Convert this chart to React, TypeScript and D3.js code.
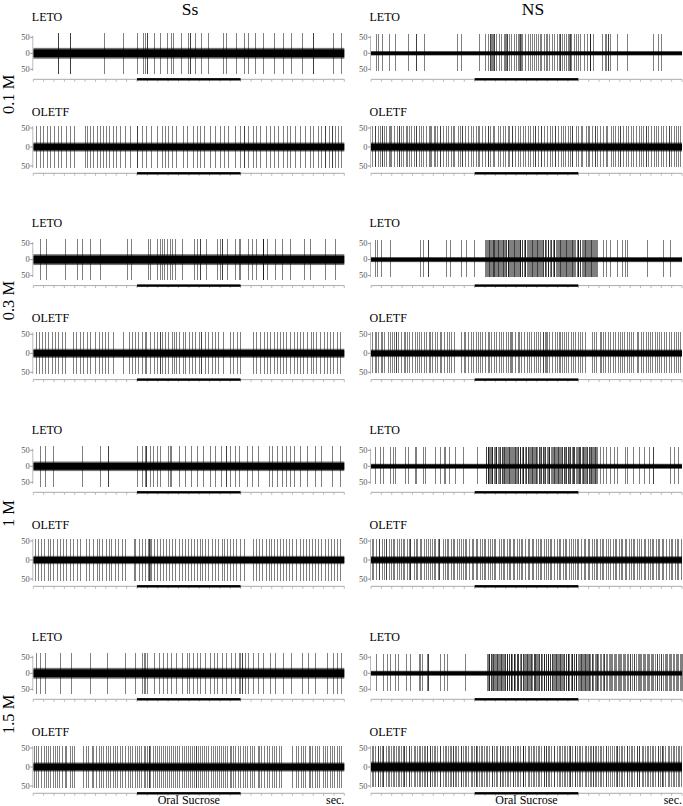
import React from "react";
import * as d3 from "d3";

// spike times, in tenths of a second (0 - 30 s)
const concentrations = ["0.1 M", "0.3 M", "1 M", "1.5 M"];
const groups = ["Ss", "NS"];
const strains = ["LETO", "OLETF"];
const yTickValues = [50, 0, -50];
const yTickLabels = ["50", "0", "50"];
const stimulus = [100, 200];

const ssLeto01 = [24, 24, 35, 35, 68, 87, 100, 106, 108, 110, 110, 116, 122, 129, 133, 135, 142, 149, 151, 151, 156, 162, 169, 183, 186, 196, 203, 207, 214, 222, 232, 241, 249, 259, 270, 270, 289, 297];
const ssOletf01 = [3, 6, 9, 13, 16, 20, 24, 27, 32, 35, 39, 50, 52, 55, 58, 61, 64, 67, 70, 73, 77, 80, 84, 88, 93, 100, 100, 105, 109, 114, 119, 124, 127, 130, 134, 138, 144, 148, 154, 158, 161, 165, 170, 175, 180, 184, 188, 195, 199, 203, 203, 207, 212, 215, 219, 224, 228, 232, 236, 241, 245, 248, 252, 257, 262, 267, 270, 275, 278, 281, 281, 285, 288, 288, 291, 294, 297];
const ssLeto03 = [6, 12, 31, 42, 47, 55, 64, 90, 94, 111, 113, 119, 122, 124, 126, 129, 132, 134, 137, 143, 155, 158, 161, 161, 167, 177, 180, 182, 182, 187, 195, 198, 199, 207, 211, 215, 222, 222, 222, 225, 233, 240, 248, 261, 267, 281, 291];
const ssOletf03 = [3, 5.5, 8, 11.6, 14, 18, 21.3, 24, 27.5, 31, 38, 41, 45.4, 48, 52, 55, 59.2, 63, 66, 69.4, 72, 77, 87, 92, 95.3, 98, 101, 105, 107.4, 109, 113, 116, 119, 122, 122, 124.3, 127, 130, 133.6, 136, 138, 141, 144, 146.5, 150, 153, 156, 159.4, 162, 162, 166, 169, 172, 175.3, 178, 183, 190, 193, 196.4, 199, 212, 215, 219, 222.5, 225, 228, 232, 235, 238.4, 241, 244, 248, 251.5, 254, 257, 260, 264, 267.5, 270, 273, 277, 280, 283.6, 286, 289, 293, 296];
const ssLeto1 = [6, 11, 19, 47, 64, 72, 72, 100, 105, 108, 109, 109, 113, 115, 119, 122, 130, 131.5, 133, 141, 146, 152, 158, 164, 170, 175, 181, 186, 186, 190, 195, 198, 206, 211, 217, 227, 230, 235, 240, 244, 248, 251, 257, 264, 272, 278, 288, 296];
const ssOletf1 = [2, 5, 7, 10.5, 14, 16, 19, 23, 26, 28.4, 32, 35, 38, 42, 45, 51, 54, 57.5, 61, 63, 66, 70, 73.4, 75, 79, 82, 86, 88, 97, 98, 102, 104.5, 108, 111, 112, 112, 113, 114, 116, 119, 122, 125.4, 128, 131, 134, 137, 140.5, 143, 146, 149, 152, 155, 158, 160.4, 163, 166, 169, 172, 175, 178, 181.6, 184, 187, 190, 193, 196, 199, 203, 212, 215, 218, 221, 224.5, 227, 229, 232, 235, 238, 241, 244, 247, 250, 253, 257, 260, 263, 266, 269, 272, 275, 278, 281, 284, 287, 290, 293, 296];
const ssLeto15 = [3, 6, 11, 26, 36, 55, 71, 88, 98, 105, 107, 108, 110, 116, 121, 125, 129, 133, 138, 143, 148, 150, 154, 158, 161, 166, 170, 174, 177, 182, 186, 191, 195, 198, 199, 201, 201, 204, 207, 212, 217, 222, 228, 233, 241, 249, 259, 265, 272, 283, 289, 293, 297];
const ssOletf15 = [1, 3, 5, 7.4, 10, 12, 14, 16.5, 19, 21, 23, 25, 28, 30.4, 32, 35, 37, 39, 48, 51, 53, 56.5, 58, 60, 63, 65, 67, 70, 72.5, 74, 77, 79, 81, 84, 86, 88, 91, 93.4, 95, 98, 100, 102, 104, 106.4, 108, 110, 112, 112, 113, 115, 117, 119, 121, 123, 125.5, 127, 129, 131, 133, 135, 137, 139, 141, 143, 145.4, 147, 149, 151, 153, 155, 157, 157, 159, 161, 163, 165, 167, 169, 171.5, 173, 175, 177, 179, 181, 183, 185, 187, 189.5, 191, 193, 195, 197, 199, 202, 204, 206, 209, 211, 213, 216.5, 218, 220, 223, 225, 227, 230, 232, 234, 237, 239, 250, 253, 255, 258, 260, 262, 265.5, 267, 269, 272, 274, 276, 279, 281, 283, 286, 288, 290, 293, 295, 297];

const nsLeto01 = [5, 7, 11, 17, 23, 36, 43, 43, 51, 83, 87, 104, 110, 113, 115, 115, 116, 117, 118, 119, 119, 121, 123, 125, 128, 129, 130, 131, 131, 133, 135, 138, 140, 142, 143, 144, 144, 145, 146, 149, 151, 153, 155, 157, 159, 161, 163, 164, 167, 169, 170, 172, 175, 177, 179, 181, 182, 182, 184, 186, 188, 190, 191, 192, 192, 193, 196, 198, 200, 202, 205, 208, 211, 211, 211, 214, 223, 226, 227, 229, 229, 231, 237, 247, 272, 277, 280];
const nsOletf01 = [1.2, 3.5, 4.1, 6.8, 8.3, 11.0, 11.0, 12.7, 14.9, 17.2, 18.6, 19.4, 22.1, 24.8, 27.0, 27.0, 28.6, 31.3, 33.9, 35.2, 36.4, 38.7, 41.0, 43.8, 43.8, 46.1, 48.4, 50.3, 53.0, 55.7, 57.2, 58.3, 60.9, 61.4, 64.0, 66.3, 66.3, 69.5, 72.2, 74.0, 77.1, 79.4, 80.2, 83.5, 85.6, 88.0, 88.0, 90.7, 93.4, 96.2, 98.0, 101.5, 103.3, 104.1, 107.0, 110.2, 112.6, 112.6, 115.0, 117.3, 119.1, 122.4, 124.0, 127.5, 129.2, 132.1, 133.0, 136.3, 136.3, 139.2, 141.5, 144.0, 146.8, 148.1, 151.4, 153.0, 156.2, 158.5, 158.5, 161.1, 163.7, 164.3, 167.0, 169.5, 172.2, 175.0, 177.4, 177.4, 180.1, 182.8, 185.3, 187.0, 189.6, 192.2, 194.0, 194.0, 197.3, 199.5, 202.1, 204.0, 207.3, 209.1, 210.4, 213.0, 216.2, 216.2, 218.4, 221.0, 223.6, 226.3, 228.0, 231.4, 233.1, 235.5, 238.2, 240.0, 240.0, 243.3, 245.6, 248.1, 250.4, 253.0, 255.2, 258.5, 260.1, 262.7, 265.0, 265.0, 267.4, 270.2, 272.6, 275.1, 277.3, 279.8, 282.0, 284.5, 287.2, 287.2, 289.6, 292.0, 294.3, 296.5, 298.4];
const nsLeto03 = [4, 6, 10, 18, 47, 50, 55, 55, 72, 76, 87, 92, 99, 110.2, 111.0, 111.9, 112.6, 113.5, 113.5, 114.8, 115.6, 116.3, 117.4, 118.1, 118.9, 118.9, 119.7, 120.6, 121.8, 122.3, 122.3, 123.5, 124.7, 125.2, 126.4, 127.3, 127.3, 128.0, 129.1, 129.9, 130.6, 131.8, 132.4, 132.4, 133.5, 134.1, 135.0, 136.2, 137.3, 138.0, 138.0, 139.1, 140.2, 140.9, 141.5, 142.8, 143.6, 144.2, 144.2, 145.4, 146.1, 147.3, 148.5, 149.0, 149.0, 150.2, 151.4, 152.1, 153.0, 154.3, 155.0, 155.0, 156.6, 157.2, 158.1, 159.3, 160.0, 160.0, 161.2, 162.4, 163.1, 164.0, 165.3, 166.1, 166.1, 167.4, 168.0, 169.2, 170.3, 171.1, 171.1, 172.5, 173.2, 174.0, 175.4, 176.2, 176.2, 177.0, 178.1, 179.3, 180.0, 181.2, 182.3, 182.3, 183.1, 184.0, 185.2, 186.4, 187.0, 188.3, 188.3, 189.1, 190.2, 191.4, 192.0, 193.3, 194.1, 194.1, 195.2, 196.3, 197.0, 198.4, 199.2, 200.1, 200.1, 201.3, 202.0, 203.4, 204.2, 205.5, 206.1, 206.1, 207.3, 208.0, 209.2, 210.3, 211.4, 212.1, 212.1, 213.0, 214.2, 215.5, 216.3, 217.1, 218.0, 224, 227, 231, 237, 242, 245, 247, 266, 282, 288];
const nsOletf03 = [1, 3.4, 5, 7, 9.5, 11, 13, 16, 18.4, 20, 22, 24, 24, 26, 29, 31.5, 33, 35, 37, 40, 42.4, 44, 46, 48, 51, 53, 55.5, 57, 59, 62, 64, 66.5, 68, 70, 73, 75, 77, 80, 87, 89.4, 91, 94, 96, 98.5, 101, 103, 105, 107, 110, 112.5, 114, 116, 119, 121, 123, 125.5, 127, 130, 132, 134, 135, 136, 139, 141.5, 143, 145, 148, 150, 152, 154.5, 157, 159, 161, 163, 166, 166, 168, 169, 170, 172, 175, 177.5, 179, 181, 182, 184, 186, 188.4, 190, 193, 195, 197, 199.5, 202, 204, 206, 213, 215, 217, 220.5, 222, 224, 226, 229, 231, 233.4, 235, 238, 240, 242, 244.5, 247, 249, 251, 253, 256.4, 258, 260, 262, 265, 267, 269.5, 271, 274, 276, 278, 280, 283, 285, 287.4, 289, 292, 294, 296, 298];
const nsLeto1 = [4, 9, 12, 18, 21, 23, 33, 36, 42, 43, 50, 52, 62, 67, 70, 71, 75, 81, 89, 102, 111.0, 111.4, 112.6, 113.0, 113.0, 114.2, 115.1, 115.3, 116.8, 117.2, 117.2, 118.5, 119.9, 120.3, 121.0, 121.0, 122.6, 123.1, 124.4, 124.6, 125.9, 126.0, 127.3, 128.5, 128.5, 129.1, 130.7, 131.2, 131.8, 133.0, 133.0, 134.1, 134.9, 136.2, 136.5, 137.7, 138.8, 138.8, 139.4, 140.9, 141.6, 142.0, 143.3, 143.3, 144.1, 145.5, 146.2, 147.0, 147.0, 148.3, 149.6, 149.9, 151.1, 151.1, 152.4, 153.7, 154.0, 155.2, 155.2, 156.6, 157.3, 158.1, 159.5, 159.5, 160.2, 161.8, 162.0, 163.4, 164.1, 164.1, 165.6, 166.3, 167.0, 168.2, 168.2, 169.5, 170.4, 171.7, 172.0, 172.0, 173.6, 174.3, 175.1, 176.4, 176.4, 177.8, 178.2, 179.0, 180.3, 180.3, 181.5, 182.6, 183.1, 184.4, 184.4, 185.9, 186.2, 187.5, 188.1, 188.1, 189.7, 190.0, 191.3, 192.2, 192.2, 193.5, 194.8, 195.0, 196.1, 196.1, 197.6, 198.3, 199.2, 200.5, 200.5, 201.7, 202.0, 203.4, 204.6, 204.6, 205.1, 206.8, 207.2, 208.3, 208.3, 209.9, 210.4, 211.6, 212.0, 212.0, 213.5, 214.2, 215.0, 216.3, 216.3, 217.4, 218.0, 221, 224, 227, 231, 234, 237, 245, 247, 253, 259, 263, 268, 272, 272, 288, 292, 296];
const nsOletf1 = [1, 2, 5, 7.5, 8, 11, 13, 14, 14, 17, 19.5, 21, 22, 25, 27, 28.5, 31, 32, 35, 37, 38, 38, 41, 43, 44.5, 47, 48, 51, 53, 55, 56.5, 59, 61, 62, 65, 66, 66, 69, 71, 73.5, 74, 77, 79, 80, 83, 84.5, 87, 89, 91, 92, 95, 97.5, 98, 101, 102, 105, 107, 109, 110, 113, 115, 116.5, 119, 120, 123, 125, 127, 128, 131, 133.5, 134, 137, 138, 141, 143, 145, 146, 149, 151, 152.5, 155, 156, 159, 161, 163, 164, 167, 169, 170.5, 173, 174, 177, 179, 181, 182, 185, 187, 188, 191, 192.5, 195, 197, 199, 200, 203, 205, 206, 209, 210, 213, 215, 217, 218, 221, 223, 224, 227, 228.5, 231, 233, 235, 236, 239, 241, 242, 245, 246, 249, 251, 253, 254, 257, 259, 260, 263, 264, 267, 269, 271, 272, 275, 277, 278, 281, 282, 285, 287, 289, 290, 293, 295, 296, 299];
const nsLeto15 = [5, 12, 15, 18, 23, 26, 34, 38, 46, 47, 49, 54, 55, 55, 67, 70, 73, 91, 112.0, 112.5, 113.7, 114.1, 114.1, 115.3, 116.0, 116.8, 117.9, 117.9, 118.6, 119.8, 120.1, 121.4, 121.4, 122.7, 123.2, 124.0, 125.3, 125.3, 126.5, 127.1, 128.4, 128.9, 129.6, 130.8, 130.8, 131.5, 132.9, 133.2, 134.6, 134.6, 135.1, 136.4, 137.7, 138.0, 138.0, 139.3, 140.5, 141.1, 142.2, 142.2, 143.8, 144.3, 145.0, 146.4, 146.4, 147.6, 148.2, 149.5, 150.1, 150.1, 151.7, 152.0, 153.3, 154.5, 154.5, 155.2, 156.9, 157.1, 158.4, 158.4, 159.6, 160.3, 161.5, 162.2, 162.2, 163.8, 164.0, 165.2, 166.6, 166.6, 167.3, 168.7, 169.0, 170.4, 170.4, 171.2, 172.8, 173.1, 174.5, 174.5, 175.6, 176.1, 177.9, 178.3, 178.3, 179.5, 180.2, 181.8, 182.4, 182.4, 183.1, 184.7, 185.0, 186.3, 186.3, 187.9, 188.2, 189.6, 190.4, 190.4, 191.1, 192.5, 193.8, 194.0, 194.0, 195.6, 196.3, 197.7, 198.2, 198.2, 199.4, 200.9, 201.3, 202.5, 202.5, 203.7, 204.1, 205.9, 206.3, 206.3, 207.5, 208.8, 209.2, 210.6, 210.6, 211.4, 212.9, 213.3, 214.5, 215.8, 216.6, 218.0, 218.0, 219.4, 221.1, 222.3, 223.6, 224.9, 225.2, 226.8, 228.1, 229.5, 230.7, 231.2, 232.9, 234.1, 235.5, 236.3, 237.8, 239.0, 240.6, 241.2, 242.9, 244.5, 245.1, 246.7, 248.0, 249.6, 250.2, 251.8, 253.3, 254.1, 255.6, 257.2, 258.5, 259.1, 260.8, 262.3, 263.7, 264.2, 265.9, 267.4, 268.0, 269.7, 271.3, 272.1, 273.8, 275.5, 276.2, 277.6, 279.3, 280.1, 281.7, 283.4, 284.2, 285.9, 287.1, 288.6, 289.8, 291.5, 292.2, 293.9, 295.4, 296.1, 297.8, 299.3, 300.0];
const nsOletf15 = [1, 2, 4, 6.5, 7, 9, 11, 12, 12, 14, 16.5, 17, 19, 21, 22, 24, 26.5, 27, 29, 31, 32, 32, 34, 36.5, 37, 39, 41, 42, 44, 46.5, 47, 49, 51, 52, 54, 54, 56.5, 57, 59, 61, 62, 64, 66.5, 67, 69, 71, 72, 74, 76.5, 77, 79, 79, 81, 82, 84, 86.5, 87, 89, 91, 92, 94, 96.5, 97, 99, 101, 101, 102, 104, 106.5, 107, 109, 111, 112, 114, 116.5, 117, 119, 121, 122, 124, 124, 126.5, 127, 129, 131, 132, 134, 136.5, 137, 139, 141, 142, 144, 146.5, 147, 147, 149, 151, 152, 154, 156.5, 157, 159, 161, 162, 164, 166.5, 167, 169, 169, 171, 172, 174, 176.5, 177, 179, 181, 182, 184, 186.5, 187, 189, 191, 192, 192, 194, 196.5, 197, 199, 201, 202, 204, 206.5, 207, 209, 211, 212, 214, 214, 216.5, 217, 219, 221, 222, 224, 226.5, 227, 229, 231, 232, 234, 236.5, 237, 237, 239, 241, 242, 244, 246.5, 247, 249, 251, 252, 254, 256.5, 257, 259, 259, 261, 262, 264, 266.5, 267, 269, 271, 272, 274, 276.5, 277, 279, 281, 281, 282, 284, 286.5, 287, 289, 291, 292, 294, 296.5, 297, 299];

// noise band half-height and spike reach, in trace units
const ssLetoNoise = [17, 17, 15, 17];
const ssOletfNoise = [12, 12, 11, 12];
const nsLetoNoise = [7, 8, 8, 8];
const nsOletfNoise = [12, 10, 10, 14];
const spikeReach = { Ss: { LETO: [65, -65], OLETF: [55, -55] }, NS: { LETO: [60, -55], OLETF: [55, -53] } };

const traces = {
  Ss: { LETO: [ssLeto01, ssLeto03, ssLeto1, ssLeto15], OLETF: [ssOletf01, ssOletf03, ssOletf1, ssOletf15] },
  NS: { LETO: [nsLeto01, nsLeto03, nsLeto1, nsLeto15], OLETF: [nsOletf01, nsOletf03, nsOletf1, nsOletf15] },
};
const noise = {
  Ss: { LETO: ssLetoNoise, OLETF: ssOletfNoise },
  NS: { LETO: nsLetoNoise, OLETF: nsOletfNoise },
};

const width = 683;
const height = 806;
const colX = { Ss: 33.3, NS: 371 };
const plotW = 311;
const groupY = [0, 206.3, 413, 620];
const rows = {
  LETO: { label: 21, top: 37.3, bottom: 69.3, axis: 79.3 },
  OLETF: { label: 116, top: 128, bottom: 166, axis: 173.3 },
};
const serif = "'Liberation Serif', 'Times New Roman', serif";
const xTicks = d3.range(0, 301, 10);

function Panel({ group, strain, gi }) {
  const x0 = colX[group];
  const g = rows[strain];
  const oy = groupY[gi];
  const x = d3.scaleLinear().domain([0, 300]).range([x0, x0 + plotW]);
  const y = d3.scaleLinear().domain([-50, 50]).range([oy + g.bottom, oy + g.top]);
  const [up, down] = spikeReach[group][strain];
  const nz = noise[group][strain][gi];
  const ax = oy + g.axis;
  return (
    <g>
      <text x={x0 - 1.5} y={oy + g.label} fontSize={12} fontFamily={serif}>
        {strain}
      </text>
      {traces[group][strain][gi].map((t, i) => {
        const px = Math.round(x(t)) + 0.5;
        return (
          <line key={i} x1={px} x2={px} y1={y(up)} y2={y(down)} stroke="#000" strokeOpacity={0.5} strokeWidth={1} shapeRendering="crispEdges" />
        );
      })}
      <rect x={x0} width={plotW} y={y(nz)} height={y(-nz) - y(nz)} fill="#000" fillOpacity={0.55} />
      <rect x={x0} width={plotW} y={y(nz * 0.72)} height={y(-nz * 0.72) - y(nz * 0.72)} fill="#000" />
      <line x1={x0 - 0.5} x2={x0 - 0.5} y1={y(55)} y2={y(-55)} stroke="#bbb" strokeWidth={1} />
      {yTickValues.map((v, i) => (
        <g key={v}>
          <line x1={x0 - 3} x2={x0 - 0.5} y1={y(v)} y2={y(v)} stroke="#777" strokeWidth={0.8} />
          <text x={x0 - 3.5} y={y(v)} dy="0.33em" textAnchor="end" fontSize={8.5} fontFamily={serif} fill="#555">
            {yTickLabels[i]}
          </text>
        </g>
      ))}
      <line x1={x0} x2={x0 + plotW} y1={ax} y2={ax} stroke="#aaa" strokeWidth={1} />
      {xTicks.map((t) => (
        <line key={t} x1={x(t)} x2={x(t)} y1={ax} y2={ax + 2.5} stroke="#aaa" strokeWidth={0.8} />
      ))}
      <rect x={x(stimulus[0])} width={x(stimulus[1]) - x(stimulus[0])} y={ax - 1.2} height={2.4} fill="#000" />
      {gi === 3 && strain === "OLETF" && (
        <>
          <text x={x((stimulus[0] + stimulus[1]) / 2)} y={803.5} textAnchor="middle" fontSize={12} fontFamily={serif}>
            Oral Sucrose
          </text>
          <text x={x0 + plotW} y={803.5} textAnchor="end" fontSize={12} fontFamily={serif}>
            sec.
          </text>
        </>
      )}
    </g>
  );
}

export default function App() {
  return (
    <svg width={width} height={height} style={{ position: "absolute", left: 0, top: 0, background: "#fff" }}>
      <text x={190} y={14.5} textAnchor="middle" fontSize={17.5} fontFamily={serif}>Ss</text>
      <text x={533} y={14.5} textAnchor="middle" fontSize={17.5} fontFamily={serif}>NS</text>
      {concentrations.map((c, gi) => (
        <text key={c} transform={`translate(14,${groupY[gi] + 114}) rotate(-90)`} fontSize={16.5} fontFamily={serif}>
          {c}
        </text>
      ))}
      {groups.map((group) =>
        concentrations.map((c, gi) =>
          strains.map((strain) => <Panel key={group + c + strain} group={group} strain={strain} gi={gi} />)
        )
      )}
    </svg>
  );
}
